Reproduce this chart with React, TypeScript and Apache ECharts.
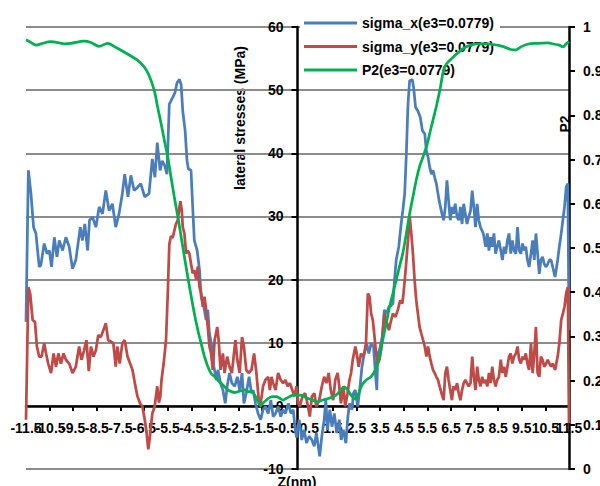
import React, { useEffect, useRef } from "react";
import * as echarts from "echarts";

// x positions (Z, nm) and values
const zMin = -11.5;
const zMax = 11.5;

const sigmaXZ = [
  -11.5, -11.4, -11.29, -11.18, -11.08, -10.94, -10.87, -10.73, -10.61, -10.51, -10.42, -10.3, -10.19, -10.09, -9.95, -9.81, -9.67, -9.53, -9.39, -9.2,
  -9.11, -9.01, -8.89, -8.81, -8.68, -8.54, -8.4, -8.26, -8.12, -7.98, -7.84, -7.7, -7.56, -7.42, -7.32, -7.18, -7.06, -6.92, -6.78, -6.64,
  -6.47, -6.29, -6.15, -6.04, -5.94, -5.82, -5.73, -5.62, -5.53, -5.43, -5.29, -5.19, -5.1, -5.0, -4.93, -4.86, -4.76, -4.68, -4.62, -4.51,
  -4.44, -4.37, -4.25, -4.15, -4.08, -3.97, -3.87, -3.8, -3.73, -3.63, -3.54, -3.44, -3.37, -3.26, -3.16, -3.06, -2.98, -2.88, -2.78, -2.66,
  -2.55, -2.45, -2.35, -2.27, -2.17, -2.05, -1.95, -1.88, -1.78, -1.67, -1.56, -1.46, -1.36, -1.24, -1.13, -1.03, -0.93, -0.82, -0.71, -0.61,
  -0.51, -0.39, -0.28, -0.18, -0.11, -0.04, 0.07, 0.18, 0.28, 0.38, 0.49, 0.61, 0.71, 0.8, 0.94, 1.03, 1.13, 1.2, 1.27, 1.37,
  1.46, 1.56, 1.66, 1.77, 1.85, 1.94, 2.05, 2.12, 2.2, 2.31, 2.37, 2.45, 2.55, 2.65, 2.73, 2.83, 2.93, 3.02, 3.12, 3.22,
  3.3, 3.36, 3.4, 3.47, 3.59, 3.68, 3.78, 3.87, 3.97, 4.04, 4.11, 4.18, 4.29, 4.39, 4.46, 4.54, 4.61, 4.68, 4.75, 4.86,
  4.92, 5.0, 5.1, 5.2, 5.29, 5.39, 5.46, 5.53, 5.6, 5.67, 5.74, 5.81, 5.88, 6.0, 6.12, 6.19, 6.26, 6.33, 6.4, 6.47,
  6.54, 6.61, 6.68, 6.76, 6.83, 6.9, 6.97, 7.04, 7.11, 7.18, 7.25, 7.33, 7.4, 7.47, 7.54, 7.61, 7.68, 7.75, 7.87, 7.97,
  8.04, 8.11, 8.18, 8.25, 8.32, 8.39, 8.46, 8.53, 8.61, 8.68, 8.75, 8.82, 8.89, 8.96, 9.03, 9.1, 9.17, 9.25, 9.32, 9.39,
  9.46, 9.53, 9.6, 9.67, 9.74, 9.81, 9.89, 9.96, 10.03, 10.1, 10.17, 10.24, 10.31, 10.38, 10.45, 10.53, 10.6, 10.67, 10.74, 10.81,
  10.91, 11.02, 11.09, 11.17, 11.24, 11.31, 11.38, 11.45, 11.5,
];
const sigmaX = [
  13.3, 37.3, 33.6, 28.3, 27.3, 22.0, 22.3, 25.7, 24.1, 24.6, 22.0, 26.7, 23.6, 26.2, 24.6, 26.7, 25.2, 21.7, 23.1, 28.3,
  26.2, 28.8, 24.6, 29.4, 29.9, 28.3, 31.5, 30.4, 34.1, 30.9, 32.0, 28.3, 30.4, 33.6, 36.7, 33.1, 36.5, 34.1, 34.6, 35.2,
  33.1, 33.6, 39.1, 36.2, 41.7, 37.3, 38.8, 38.0, 36.7, 47.8, 48.8, 49.6, 51.2, 51.7, 50.9, 46.7, 43.6, 38.8, 37.5, 37.3,
  31.5, 26.2, 24.6, 21.5, 17.3, 15.7, 13.6, 15.2, 11.5, 9.4, 6.2, 4.1, 5.7, 3.6, 2.5, 0.4, 3.1, 5.2, 3.6, 3.1,
  4.6, 2.5, 5.2, 0.4, 2.0, 4.6, 2.0, 2.5, 0.4, -1.2, -2.2, -0.6, -0.1, -1.2, 0.9, -1.7, -1.2, -0.1, -1.7, -0.6,
  -1.2, 0.4, -1.2, -0.6, -3.3, -5.0, -2.2, -5.4, -3.8, -5.9, -4.8, -5.4, -6.4, -4.3, -8.0, -4.8, -2.2, 0.9, -3.8, -0.6,
  -3.3, -1.2, -4.3, -2.2, -5.4, -3.8, -5.9, -2.2, 0.4, -0.6, 2.0, 2.5, -0.1, 3.1, 6.2, 8.3, 9.9, 8.3, 9.9, 9.4,
  5.2, 2.5, 8.3, 8.8, 10.9, 15.2, 14.6, 15.7, 15.9, 16.2, 19.9, 23.1, 25.2, 28.8, 30.9, 33.6, 39.9, 47.8, 51.5, 51.7,
  50.4, 47.3, 46.7, 45.7, 43.6, 43.1, 40.4, 39.4, 37.8, 36.7, 37.3, 36.2, 35.2, 32.5, 30.4, 29.4, 31.5, 35.7, 32.5, 29.4,
  31.5, 30.4, 32.0, 29.9, 29.4, 31.5, 28.8, 32.0, 30.4, 28.8, 29.9, 30.9, 34.1, 31.5, 28.3, 32.0, 29.4, 28.3, 27.3, 25.2,
  27.3, 24.6, 26.7, 25.2, 27.3, 24.1, 25.2, 26.2, 24.6, 23.1, 25.2, 24.1, 26.2, 27.3, 24.1, 26.2, 24.6, 24.1, 28.3, 24.6,
  24.1, 25.7, 24.6, 25.2, 23.1, 22.0, 24.1, 26.2, 23.1, 27.3, 24.1, 20.9, 23.1, 23.6, 22.5, 22.0, 22.5, 23.1, 23.1, 22.0,
  20.4, 23.1, 25.2, 27.3, 29.4, 31.5, 34.6, 35.2, 12.0,
];

const sigmaYZ = [
  -11.5, -11.4, -11.32, -11.22, -11.12, -11.04, -10.94, -10.84, -10.73, -10.65, -10.56, -10.44, -10.33, -10.23, -10.13, -10.02, -9.91, -9.81, -9.67, -9.53,
  -9.39, -9.25, -9.15, -9.04, -8.94, -8.84, -8.75, -8.64, -8.54, -8.44, -8.33, -8.22, -8.12, -8.02, -7.91, -7.8, -7.7, -7.63, -7.53, -7.42,
  -7.32, -7.2, -7.09, -6.99, -6.89, -6.78, -6.67, -6.57, -6.47, -6.39, -6.32, -6.25, -6.15, -6.05, -5.94, -5.87, -5.81, -5.76, -5.67, -5.57,
  -5.5, -5.43, -5.36, -5.29, -5.22, -5.15, -5.07, -5.0, -4.96, -4.9, -4.86, -4.79, -4.72, -4.65, -4.58, -4.51, -4.44, -4.37, -4.29, -4.22,
  -4.15, -4.08, -4.01, -3.94, -3.87, -3.8, -3.73, -3.66, -3.59, -3.51, -3.4, -3.34, -3.26, -3.16, -3.09, -2.98, -2.88, -2.78, -2.69, -2.63,
  -2.55, -2.45, -2.35, -2.27, -2.17, -2.07, -1.95, -1.84, -1.74, -1.64, -1.56, -1.46, -1.36, -1.24, -1.17, -1.1, -1.03, -0.93, -0.82, -0.71,
  -0.61, -0.51, -0.42, -0.32, -0.22, -0.14, -0.04, 0.03, 0.1, 0.21, 0.32, 0.42, 0.52, 0.61, 0.71, 0.8, 0.92, 1.03, 1.13, 1.23,
  1.32, 1.41, 1.51, 1.6, 1.7, 1.77, 1.84, 1.94, 2.02, 2.12, 2.2, 2.27, 2.34, 2.45, 2.51, 2.59, 2.69, 2.76, 2.83, 2.9,
  2.98, 3.05, 3.12, 3.19, 3.26, 3.33, 3.4, 3.47, 3.54, 3.61, 3.68, 3.76, 3.87, 3.97, 4.04, 4.15, 4.25, 4.35, 4.44, 4.49,
  4.58, 4.68, 4.75, 4.82, 4.89, 4.96, 5.03, 5.1, 5.17, 5.24, 5.32, 5.39, 5.46, 5.53, 5.6, 5.67, 5.74, 5.81, 5.88, 5.95,
  6.02, 6.1, 6.19, 6.26, 6.33, 6.4, 6.47, 6.54, 6.61, 6.68, 6.76, 6.83, 6.9, 6.97, 7.04, 7.11, 7.18, 7.25, 7.33, 7.4,
  7.47, 7.54, 7.61, 7.68, 7.75, 7.82, 7.89, 7.97, 8.04, 8.11, 8.18, 8.25, 8.32, 8.39, 8.46, 8.53, 8.61, 8.68, 8.75, 8.82,
  8.89, 8.96, 9.03, 9.1, 9.17, 9.25, 9.32, 9.39, 9.46, 9.53, 9.6, 9.67, 9.74, 9.81, 9.89, 9.96, 10.03, 10.1, 10.17, 10.24,
  10.31, 10.38, 10.45, 10.53, 10.6, 10.67, 10.74, 10.81, 10.91, 11.02, 11.09, 11.17, 11.24, 11.31, 11.38, 11.45, 11.5,
];
const sigmaY = [
  -2.2, 18.8, 17.7, 13.6, 13.3, 9.4, 7.8, 7.8, 9.9, 8.3, 6.7, 5.2, 8.3, 6.2, 8.3, 6.7, 8.3, 7.3, 6.7, 5.2,
  6.2, 9.4, 7.3, 8.8, 10.4, 5.5, 9.4, 7.8, 8.8, 11.2, 10.9, 12.0, 13.1, 10.4, 10.2, 9.9, 6.2, 9.4, 6.7, 9.9,
  10.4, 7.8, 6.7, 5.7, 3.6, 1.5, 0.4, -0.1, -2.2, -4.3, -6.9, -4.8, -1.2, -0.1, 3.1, 0.5, 1.5, 4.1, 6.7, 10.4,
  17.3, 25.6, 26.9, 26.6, 27.7, 28.8, 29.4, 31.5, 32.4, 30.9, 28.3, 27.3, 24.1, 24.6, 24.1, 22.5, 21.0, 21.5, 20.0, 22.1,
  18.8, 17.8, 15.7, 17.3, 15.2, 12.5, 9.4, 8.3, 5.7, 10.4, 12.5, 10.4, 5.7, 8.3, 5.2, 7.8, 6.2, 5.2, 8.3, 10.4,
  7.3, 5.2, 10.9, 9.4, 5.7, 5.2, 5.7, 8.3, 5.2, 0.9, 0.4, 3.1, 4.1, 4.6, 2.5, 4.6, 3.6, 2.5, 5.2, 4.1,
  3.6, 4.1, 3.1, 3.6, 2.5, 1.5, 3.1, 0.4, -0.1, 1.5, 2.0, 0.4, -1.7, 1.5, 2.0, -0.1, 0.9, 3.1, 4.6, 3.6,
  5.2, 2.5, 0.9, 4.1, 5.2, 3.1, 0.4, 3.1, -0.1, 2.0, 4.1, 5.2, 7.3, 9.4, 8.3, 6.2, 8.3, 7.8, 8.3, 9.9,
  17.8, 17.3, 14.6, 13.6, 11.0, 8.3, 6.7, 7.3, 8.8, 11.5, 14.6, 13.6, 12.0, 13.6, 14.6, 14.1, 15.2, 16.7, 16.2, 17.8,
  21.5, 26.2, 30.0, 27.3, 24.1, 19.9, 16.7, 14.6, 12.5, 11.5, 10.4, 9.4, 7.8, 9.4, 7.8, 6.7, 5.7, 5.2, 4.6, 4.1,
  3.1, 2.0, 0.9, 5.2, 6.2, 4.1, 2.5, 0.9, 3.1, 2.5, 3.6, 2.0, 0.9, 2.5, 3.6, 4.1, 3.6, 3.1, 3.6, 7.8,
  4.6, 2.5, 6.2, 4.1, 3.1, 4.6, 3.6, 4.1, 3.1, 5.2, 3.6, 6.2, 4.1, 3.1, 4.1, 4.6, 7.3, 5.2, 6.2, 4.6,
  6.2, 7.8, 8.3, 6.7, 7.8, 8.3, 9.4, 7.3, 6.7, 7.8, 7.3, 8.3, 6.7, 5.7, 9.9, 5.2, 8.3, 12.5, 5.2, 4.6,
  7.8, 7.3, 6.2, 6.7, 7.3, 6.7, 6.2, 6.7, 5.7, 7.8, 9.9, 13.6, 14.6, 15.7, 17.8, 18.8, -2.7,
];

const p2Z = [
  -11.5, -11.29, -11.08, -10.87, -10.44, -9.88, -9.6, -9.04, -8.75, -8.4, -8.05, -7.63, -7.2, -6.78, -6.5, -6.29, -6.07, -5.93, -5.78, -5.64,
  -5.5, -5.36, -5.22, -5.07, -4.93, -4.79, -4.65, -4.5, -4.37, -4.22, -4.08, -3.94, -3.8, -3.66, -3.51, -3.37, -3.23, -3.09, -2.95, -2.8,
  -2.66, -2.52, -2.38, -2.24, -2.1, -1.95, -1.81, -1.67, -1.56, -1.46, -1.32, -1.17, -1.03, -0.89, -0.75, -0.61, -0.47, -0.32, -0.18, -0.07,
  0.14, 0.35, 0.63, 0.85, 1.06, 1.34, 1.63, 1.84, 1.98, 2.12, 2.27, 2.45, 2.59, 2.73, 2.9, 3.12, 3.33, 3.47, 3.61, 3.76,
  3.9, 4.04, 4.18, 4.32, 4.46, 4.61, 4.75, 4.89, 5.03, 5.17, 5.32, 5.46, 5.6, 5.74, 5.88, 6.04, 6.19, 6.33, 6.54, 6.76,
  7.04, 7.33, 7.61, 8.04, 8.46, 8.75, 9.03, 9.25, 9.46, 9.74, 10.17, 10.6, 10.89, 11.09, 11.24, 11.38, 11.5,
];
const p2 = [
  0.971, 0.965, 0.959, 0.962, 0.967, 0.962, 0.963, 0.968, 0.965, 0.956, 0.963, 0.952, 0.939, 0.925, 0.91, 0.891, 0.857, 0.82, 0.782, 0.744,
  0.707, 0.661, 0.616, 0.571, 0.526, 0.48, 0.435, 0.39, 0.352, 0.314, 0.284, 0.254, 0.232, 0.216, 0.209, 0.201, 0.194, 0.186, 0.179, 0.175,
  0.173, 0.175, 0.177, 0.179, 0.175, 0.175, 0.167, 0.152, 0.143, 0.149, 0.156, 0.162, 0.164, 0.164, 0.16, 0.156, 0.16, 0.164, 0.167, 0.167,
  0.167, 0.162, 0.156, 0.152, 0.156, 0.16, 0.167, 0.179, 0.186, 0.179, 0.167, 0.158, 0.171, 0.19, 0.201, 0.209, 0.228, 0.254, 0.292, 0.33,
  0.367, 0.397, 0.428, 0.458, 0.488, 0.533, 0.578, 0.616, 0.654, 0.684, 0.707, 0.729, 0.759, 0.79, 0.82, 0.86, 0.903, 0.918, 0.929, 0.94,
  0.952, 0.959, 0.962, 0.962, 0.959, 0.955, 0.949, 0.948, 0.955, 0.961, 0.963, 0.964, 0.961, 0.959, 0.955, 0.962, 0.967,
];

const seriesNames = ["sigma_x(e3=0.0779)", "sigma_y(e3=0.0779)", "P2(e3=0.0779)"];
const seriesColors = ["#4A7EBB", "#BE4B48", "#00B050"];

const FONT = "'Liberation Sans', Arial, sans-serif";

const toPairs = (zs: number[], vs: number[]) => zs.map((z, i) => [z - zMin, vs[i]]);
const zLabel = (v: number) => (v + zMin).toFixed(1);

export default function App() {
  const ref = useRef<HTMLDivElement>(null);

  useEffect(() => {
    if (!ref.current) return;
    const chart = echarts.init(ref.current, null, { renderer: "svg" });
    const labelStyle = { color: "#000", fontSize: 14, fontWeight: "bold" as const, fontFamily: FONT };
    const axisBlack = { color: "#000", width: 2.5 };
    const span = zMax - zMin;

    chart.setOption({
      animation: false,
      backgroundColor: "#fff",
      grid: { left: 26, right: 31, top: 27, bottom: 17, containLabel: false, outerBoundsMode: "none" },
      legend: {
        orient: "vertical",
        left: 300,
        top: 11,
        z: 1,
        padding: [4, 6, 1, 4],
        itemGap: 7.5,
        itemWidth: 53,
        itemHeight: 3,
        icon: "rect",
        backgroundColor: "#fff",
        textStyle: { ...labelStyle, lineHeight: 16 },
        data: seriesNames,
      },
      xAxis: [
        {
          type: "value",
          min: 0,
          max: span,
          interval: 1,
          position: "bottom",
          offset: -63.1,
          axisLine: { show: true, onZero: false, lineStyle: axisBlack },
          axisTick: { show: true, length: 5, lineStyle: { color: "#000", width: 2 } },
          axisLabel: {
            ...labelStyle,
            margin: 15,
            showMinLabel: false,
            showMaxLabel: false,
            hideOverlap: false,
            formatter: zLabel,
          },
          splitLine: { show: false },
        },
        {
          type: "value",
          min: 0,
          max: span,
          interval: span,
          position: "bottom",
          offset: -63.1,
          axisLine: { show: false, onZero: false },
          axisTick: { show: false },
          axisLabel: {
            ...labelStyle,
            margin: 15,
            showMinLabel: true,
            showMaxLabel: true,
            hideOverlap: false,
            formatter: zLabel,
          },
          splitLine: { show: false },
        },
      ],
      yAxis: [
        {
          type: "value",
          min: -10,
          max: 60,
          interval: 10,
          position: "left",
          offset: -271.5,
          axisLine: { show: true, onZero: false, lineStyle: axisBlack },
          axisTick: { show: true, length: 6, lineStyle: { color: "#000", width: 2 } },
          axisLabel: { ...labelStyle, margin: 14 },
          splitLine: { show: true, lineStyle: { color: "#8C8C8C", width: 2 } },
        },
        {
          type: "value",
          min: 0,
          max: 1,
          interval: 0.1,
          position: "right",
          axisLine: { show: true, onZero: false, lineStyle: axisBlack },
          axisTick: { show: true, length: 6, lineStyle: { color: "#000", width: 2 } },
          axisLabel: { ...labelStyle, margin: 14, formatter: (v: number) => String(+v.toFixed(1)) },
          splitLine: { show: false },
        },
      ],
      series: [
        {
          name: seriesNames[0],
          type: "line",
          xAxisIndex: 0,
          yAxisIndex: 0,
          z: 3,
          data: toPairs(sigmaXZ, sigmaX),
          symbol: "none",
          lineStyle: { color: seriesColors[0], width: 2.75 },
          itemStyle: { color: seriesColors[0] },
        },
        {
          name: seriesNames[1],
          type: "line",
          xAxisIndex: 0,
          yAxisIndex: 0,
          z: 3,
          data: toPairs(sigmaYZ, sigmaY),
          symbol: "none",
          lineStyle: { color: seriesColors[1], width: 2.75 },
          itemStyle: { color: seriesColors[1] },
        },
        {
          name: seriesNames[2],
          type: "line",
          xAxisIndex: 0,
          yAxisIndex: 1,
          z: 3,
          data: toPairs(p2Z, p2),
          symbol: "none",
          smooth: 0.3,
          lineStyle: { color: seriesColors[2], width: 2.75 },
          itemStyle: { color: seriesColors[2] },
        },
      ],
      graphic: [
        {
          type: "text",
          x: 240,
          y: 118,
          rotation: Math.PI / 2,
          style: {
            text: "lateral stresses (MPa)",
            fill: "#000",
            fontSize: 14,
            fontWeight: "bold",
            fontFamily: FONT,
            textAlign: "center",
            textVerticalAlign: "middle",
          },
        },
        {
          type: "text",
          x: 565,
          y: 124,
          rotation: Math.PI / 2,
          style: {
            text: "P2",
            fill: "#000",
            fontSize: 14,
            fontWeight: "bold",
            fontFamily: FONT,
            textAlign: "center",
            textVerticalAlign: "middle",
          },
        },
        {
          type: "text",
          x: 297,
          y: 475,
          style: {
            text: "Z(nm)",
            fill: "#000",
            fontSize: 14,
            fontWeight: "bold",
            fontFamily: FONT,
            textAlign: "center",
            textVerticalAlign: "top",
          },
        },
      ],
    });

    return () => chart.dispose();
  }, []);

  return (
    <div
      ref={ref}
      style={{ position: "fixed", left: 0, top: 0, width: 600, height: 486, background: "#fff" }}
    />
  );
}
